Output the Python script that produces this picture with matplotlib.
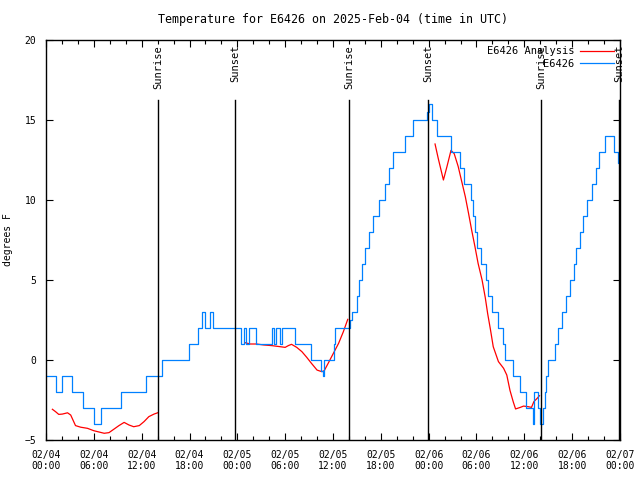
"""Station temperature vs. analysis, gnuplot-like look, with sunrise/sunset markers."""

import numpy as np
import matplotlib
matplotlib.use("Agg")
import matplotlib.pyplot as plt
from matplotlib.ticker import MultipleLocator
import matplotlib.transforms as mtransforms

# hours since 2025-02-04 00:00 UTC
obs_hours = [
    0.0, 1.3, 2.0, 3.2, 4.6, 6.0, 6.9, 9.45, 12.6, 14.6, 17.9, 19.1, 19.6, 20.0,
    20.6, 21.0, 24.4, 24.8, 25.1, 25.5, 26.4, 28.3, 28.6, 28.9, 29.3, 29.6, 31.2,
    33.25, 34.5, 34.7, 34.85, 36.1, 36.3, 38.1, 38.35, 38.95, 39.3, 39.65, 40.0,
    40.55, 41.05, 41.8, 42.5, 43.05, 43.55, 45.05, 46.0, 47.85, 48.1, 48.4, 49.0,
    50.75, 51.95, 52.45, 53.3, 53.55, 53.85, 54.05, 54.6, 55.15, 55.45, 56.0,
    56.7, 57.3, 57.6, 58.6, 59.4, 60.25, 61.05, 61.2, 61.7, 62.0, 62.3, 62.55,
    62.75, 63.0, 63.9, 64.2, 64.7, 65.2, 65.75, 66.2, 66.5, 67.0, 67.4, 67.9,
    68.5, 69.0, 69.4, 70.1, 71.2, 71.7, 72.0,
]
obs_temps = [
    -1, -2, -1, -2, -3, -4, -3, -2, -1, 0, 1, 2, 3, 2,
    3, 2, 1, 2, 1, 2, 1, 2, 1, 2, 1, 2, 1,
    0, -0.67, -1, 0, 1, 2, 2.5, 3, 4, 5, 6, 7,
    8, 9, 10, 11, 12, 13, 14, 15, 15.5, 16, 15, 14,
    13, 12, 11, 10, 9, 8, 7, 6, 5, 4, 3,
    2, 1, 0, -1, -2, -3, -4, -2, -3, -4, -3, -2,
    -1, 0, 1, 2, 3, 4, 5, 6, 7, 8, 9, 10,
    11, 12, 13, 14, 13, 12.3, 12.3,
]

# analysis, three pieces separated by gaps
ana_hours = [
    0.8, 1.2, 1.6, 2.05, 2.7, 3.1, 3.7, 4.35, 5.2, 6.0, 6.65, 7.3, 7.9, 8.5,
    9.15, 9.8, 10.4, 11.0, 11.7, 12.3, 12.9, 13.55, 14.0,
    np.nan,
    25.0, 25.6, 26.4, 27.3, 28.3, 29.4, 30.0, 30.4, 30.8, 31.45, 32.1, 32.7,
    33.3, 34.0, 34.6, 34.9, 35.4, 36.05, 36.7, 37.3, 37.85,
    np.nan,
    48.8, 49.2, 49.85, 50.3, 50.8, 51.2, 51.7, 52.15, 52.6, 53.0, 53.4, 53.8,
    54.2, 54.7, 55.1, 55.4, 55.75, 56.1, 56.75, 57.4, 57.8, 58.2, 58.6, 58.9,
    59.5, 59.9, 60.5, 60.9, 61.2, 61.6, 61.9,
]
ana_temps = [
    -3.08, -3.23, -3.4, -3.38, -3.3, -3.44, -4.1, -4.2, -4.27, -4.42, -4.5,
    -4.58, -4.54, -4.33, -4.1, -3.9, -4.06, -4.17, -4.1, -3.85, -3.54, -3.38,
    -3.3,
    np.nan,
    1.08, 1.0, 1.0, 0.94, 0.9, 0.83, 0.79, 0.9, 0.98, 0.79, 0.52, 0.17,
    -0.21, -0.63, -0.73, -0.67, -0.2, 0.42, 1.04, 1.77, 2.54,
    np.nan,
    13.5, 12.6, 11.25, 12.1, 13.1, 12.9, 12.1, 11.15, 10.2, 9.17, 8.1, 7.1,
    6.04, 5.0, 3.9, 2.9, 1.9, 0.83, -0.1, -0.52, -0.94, -1.9, -2.6, -3.06,
    -2.96, -2.88, -2.92, -2.96, -2.6, -2.4, -2.23,
]

sun_hours = [14.05, 23.7, 38.0, 47.9, 62.1, 71.9]
sun_labels = ["Sunrise", "Sunset", "Sunrise", "Sunset", "Sunrise", "Sunset"]

tick_hours = list(range(0, 73, 6))
tick_labels = [
    "02/04\n00:00", "02/04\n06:00", "02/04\n12:00", "02/04\n18:00",
    "02/05\n00:00", "02/05\n06:00", "02/05\n12:00", "02/05\n18:00",
    "02/06\n00:00", "02/06\n06:00", "02/06\n12:00", "02/06\n18:00",
    "02/07\n00:00",
]

plt.rcParams["font.family"] = "DejaVu Sans Mono"
plt.rcParams["font.size"] = 7

fig = plt.figure(figsize=(6.4, 4.8), dpi=100)
ax = fig.add_axes([46 / 640, 40 / 480, 574 / 640, 400 / 480])

ax.plot(ana_hours, ana_temps, color="#ff0000", lw=0.9, label="E6426 Analysis")
ax.plot(obs_hours, obs_temps, color="#0080ff", lw=0.9, drawstyle="steps-post",
        label="E6426")

trans = mtransforms.blended_transform_factory(ax.transData, ax.transAxes)
for h, lab in zip(sun_hours, sun_labels):
    ax.axvline(h, ymin=0, ymax=0.85, color="black", lw=1.0)
    ax.text(h, 0.988, lab, transform=trans, rotation=90, ha="center", va="top",
            fontsize=7.5)

ax.set_xlim(0, 72)
ax.set_ylim(-5, 20)
ax.set_xticks(tick_hours)
ax.set_xticklabels(tick_labels)
ax.xaxis.set_minor_locator(MultipleLocator(2))
ax.yaxis.set_major_locator(MultipleLocator(5))
ax.tick_params(which="both", direction="in", top=True, right=True, width=0.8)
ax.tick_params(which="major", length=5, pad=7)
ax.tick_params(which="minor", length=3)
for s in ax.spines.values():
    s.set_linewidth(1.0)

ax.set_ylabel("degrees F", labelpad=8)
ax.set_title("Temperature for E6426 on 2025-Feb-04 (time in UTC)", pad=12)

ax.legend(loc="upper right", frameon=False, markerfirst=False, handlelength=3.2,
          handletextpad=0.6, borderaxespad=0.3, borderpad=0.3,
          labelspacing=0.25, fontsize=7.5)

fig.savefig("out.png", dpi=100)
